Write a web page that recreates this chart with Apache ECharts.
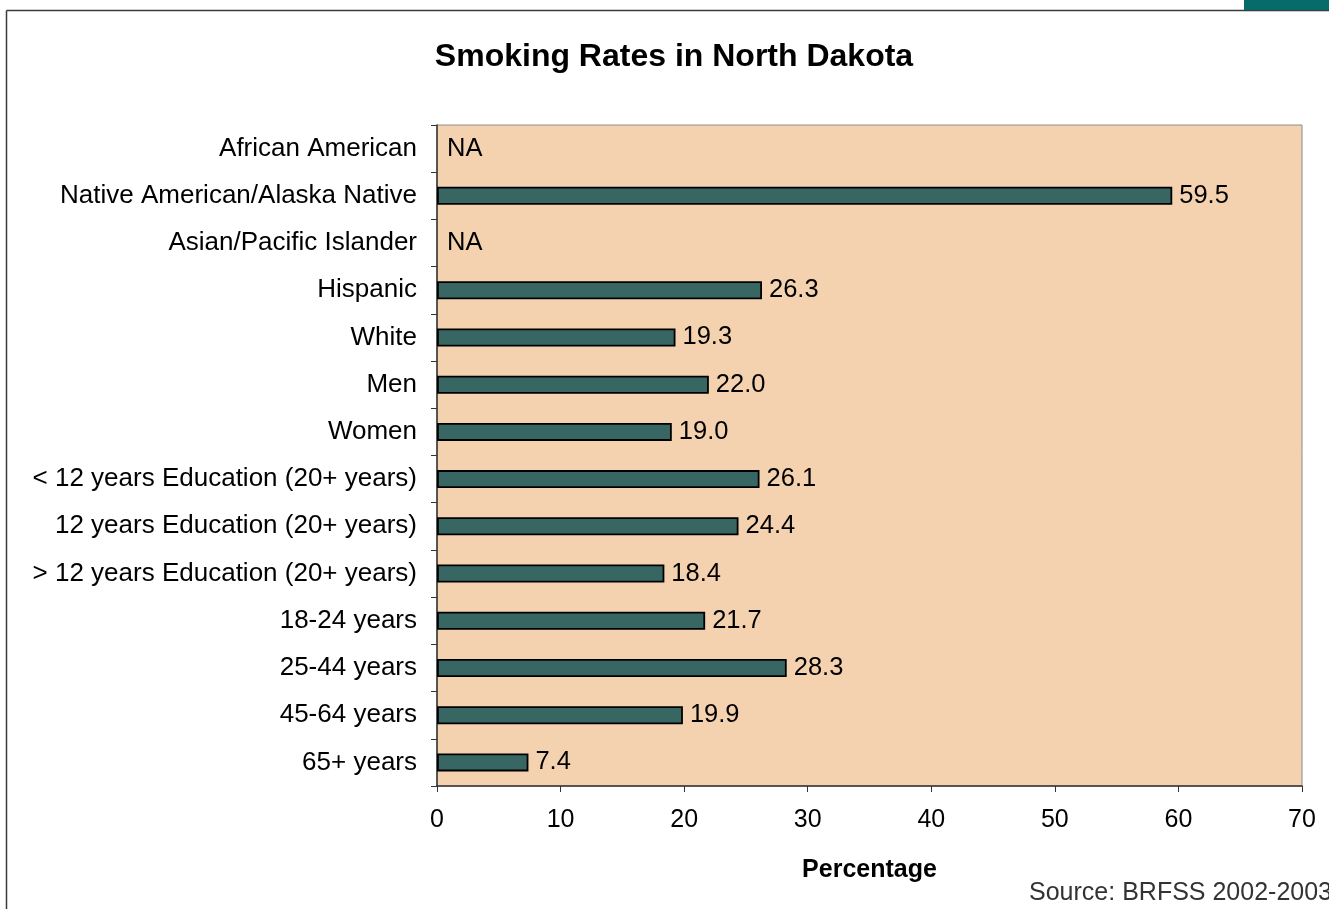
<!DOCTYPE html>
<html>
<head>
<meta charset="utf-8">
<title>Smoking Rates in North Dakota</title>
<script src="https://cdn.jsdelivr.net/npm/echarts@6/dist/echarts.min.js"></script>
<style>
html, body { margin: 0; padding: 0; background: #fff; }
#chart { width: 1329px; height: 909px; }
</style>
</head>
<body>
<div id="chart"></div>
<script>
// categories top to bottom, null = NA
var categories = [
    'African American',
    'Native American/Alaska Native',
    'Asian/Pacific Islander',
    'Hispanic',
    'White',
    'Men',
    'Women',
    '< 12 years Education (20+ years)',
    '12 years Education (20+ years)',
    '> 12 years Education (20+ years)',
    '18-24 years',
    '25-44 years',
    '45-64 years',
    '65+ years'
]
var rates = [null, 59.5, null, 26.3, 19.3, 22.0, 19.0, 26.1, 24.4, 18.4, 21.7, 28.3, 19.9, 7.4]
var xTicks = [0, 10, 20, 30, 40, 50, 60, 70]

var FONT = '"Liberation Sans", Arial, sans-serif'

var barData = rates.map(function (v) {
    if (v === null) {
        return {
            value: 0,
            itemStyle: { borderWidth: 0 },
            label: { formatter: 'NA', distance: 10 }
        }
    }
    return v
})

var myChart = echarts.init(document.getElementById('chart'))
myChart.setOption({
    animation: false,
    backgroundColor: '#ffffff',
    grid: {
        left: 437,
        right: 27,
        top: 125,
        bottom: 123,
        show: true,
        backgroundColor: '#f4d2af',
        borderColor: '#8c8c8c',
        borderWidth: 1,
        containLabel: false
    },
    xAxis: {
        type: 'value',
        min: xTicks[0],
        max: xTicks[xTicks.length - 1],
        interval: 10,
        name: 'Percentage',
        nameLocation: 'middle',
        nameGap: 72,
        nameTextStyle: {
            fontFamily: FONT,
            fontSize: 25,
            fontWeight: 'bold',
            color: '#000'
        },
        axisLine: { show: true, lineStyle: { color: '#333', width: 1.5 } },
        axisTick: { show: true, length: 6, lineStyle: { color: '#333' } },
        axisLabel: {
            fontFamily: FONT,
            fontSize: 25,
            color: '#000',
            margin: 22
        },
        splitLine: { show: false }
    },
    yAxis: {
        type: 'category',
        data: categories,
        inverse: true,
        axisLine: { show: true, lineStyle: { color: '#333', width: 1.5 } },
        axisTick: { show: true, length: 6, lineStyle: { color: '#333' } },
        axisLabel: {
            fontFamily: FONT,
            fontSize: 26,
            color: '#000',
            margin: 20
        }
    },
    series: [{
        type: 'bar',
        data: barData,
        barWidth: 18,
        itemStyle: {
            color: '#386663',
            borderColor: '#000',
            borderWidth: 1.8
        },
        label: {
            show: true,
            position: 'right',
            distance: 7,
            fontFamily: FONT,
            fontSize: 25.5,
            color: '#000',
            formatter: function (p) {
                return p.value.toFixed(1)
            }
        }
    }],
    graphic: [
        // page frame
        { type: 'line', shape: { x1: 6.5, y1: 10.5, x2: 1329, y2: 10.5 }, style: { stroke: '#3a3a3a', lineWidth: 1.5 } },
        { type: 'line', shape: { x1: 6.5, y1: 10.5, x2: 6.5, y2: 909 }, style: { stroke: '#3a3a3a', lineWidth: 1.5 } },
        { type: 'rect', shape: { x: 1244, y: 0, width: 85, height: 10 }, style: { fill: '#086b6b' } },
        {
            type: 'text',
            style: {
                text: 'Smoking Rates in North Dakota',
                x: 674,
                y: 57,
                textAlign: 'center',
                textVerticalAlign: 'middle',
                font: 'bold 32px ' + FONT,
                fill: '#000'
            }
        },
        {
            type: 'text',
            style: {
                text: 'Source: BRFSS 2002-2003',
                x: 1332,
                y: 893,
                textAlign: 'right',
                textVerticalAlign: 'middle',
                font: '25px ' + FONT,
                fill: '#333'
            }
        }
    ]
})
</script>
</body>
</html>
